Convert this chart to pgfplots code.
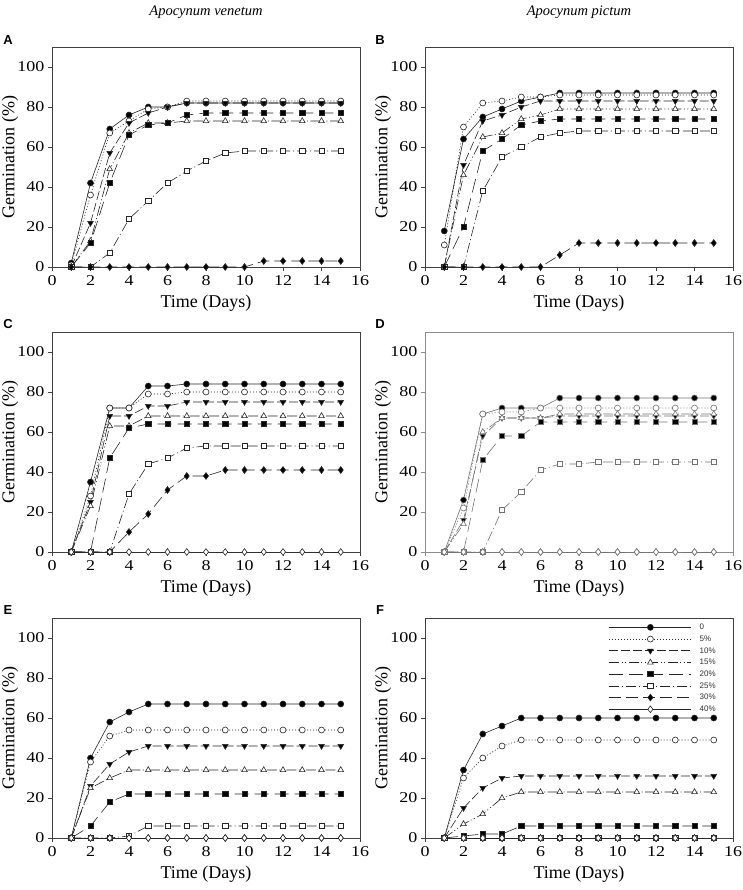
\documentclass[border=0pt]{standalone}
\usepackage{fontspec}
\setmainfont{Liberation Serif}
\setsansfont{Liberation Sans}
\newfontfamily\tickfamily[FakeStretch=1.2]{Liberation Serif}
\usepackage{pgfplots}
\usepackage{pgfplotstable}
\pgfplotsset{compat=1.18}

% germination (%) per day; columns = PEG / salt levels
\pgfplotstableread{
day s0 s5 s10 s15 s20 s25 s30
1  2  1  0  0  0  0  0
2  42 36 22 13 12 0  0
3  69 67 57 49 42 7  0
4  76 73 72 67 66 24 0
5  80 79 77 72 71 33 0
6  80 80 80 72 72 42 0
7  82 83 82 73 76 48 0
8  82 83 82 73 77 53 0
9  82 83 82 73 77 57 0
10 82 83 82 73 77 58 0
11 82 83 82 73 77 58 3
12 82 83 82 73 77 58 3
13 82 83 82 73 77 58 3
14 82 83 82 73 77 58 3
15 82 83 82 73 77 58 3
}\tabA

\pgfplotstableread{
day s0 s5 s10 s15 s20 s25 s30
1  18 11 0  0  0  0  0
2  64 70 51 46 20 0  0
3  75 82 73 65 58 38 0
4  79 83 76 67 64 55 0
5  83 85 80 74 71 60 0
6  85 85 83 76 73 65 0
7  87 86 83 79 74 67 6
8  87 86 83 79 74 68 12
9  87 86 83 79 74 68 12
10 87 86 83 79 74 68 12
11 87 86 83 79 74 68 12
12 87 86 83 79 74 68 12
13 87 86 83 79 74 68 12
14 87 86 83 79 74 68 12
15 87 86 83 79 74 68 12
}\tabB

\pgfplotstableread{
day s0 s5 s10 s15 s20 s25 s30 s40
1  0  0  0  0  0  0  0  0
2  35 28 25 23 0  0  0  0
3  72 72 68 63 47 0  0  0
4  72 72 68 63 62 29 10 0
5  83 79 73 68 64 44 19 0
6  83 79 73 68 64 47 31 0
7  84 80 75 68 64 52 38 0
8  84 80 75 68 64 53 38 0
9  84 80 75 68 64 53 41 0
10 84 80 75 68 64 53 41 0
11 84 80 75 68 64 53 41 0
12 84 80 75 68 64 53 41 0
13 84 80 75 68 64 53 41 0
14 84 80 75 68 64 53 41 0
15 84 80 75 68 64 53 41 0
}\tabC

\pgfplotstableread{
day s0 s5 s10 s15 s20 s25 s30 s40
1  0  0  0  0  0  0  0  0
2  26 22 16 14 0  0  0  0
3  69 69 58 60 46 0  0  0
4  72 70 67 67 58 21 0  0
5  72 70 67 67 58 30 0  0
6  72 72 67 67 65 41 0  0
7  77 72 68 69 65 44 0  0
8  77 72 68 69 65 44 0  0
9  77 72 68 69 65 45 0  0
10 77 72 68 69 65 45 0  0
11 77 72 68 69 65 45 0  0
12 77 72 68 69 65 45 0  0
13 77 72 68 69 65 45 0  0
14 77 72 68 69 65 45 0  0
15 77 72 68 69 65 45 0  0
}\tabD

\pgfplotstableread{
day s0 s5 s10 s15 s20 s25 s30 s40
1  0  0  0  0  0  0  0  0
2  40 38 26 25 6  0  0  0
3  58 51 37 30 18 0  0  0
4  63 54 43 34 22 1  0  0
5  67 54 46 34 22 6  0  0
6  67 54 46 34 22 6  0  0
7  67 54 46 34 22 6  0  0
8  67 54 46 34 22 6  0  0
9  67 54 46 34 22 6  0  0
10 67 54 46 34 22 6  0  0
11 67 54 46 34 22 6  0  0
12 67 54 46 34 22 6  0  0
13 67 54 46 34 22 6  0  0
14 67 54 46 34 22 6  0  0
15 67 54 46 34 22 6  0  0
}\tabE

\pgfplotstableread{
day s0 s5 s10 s15 s20 s25 s30 s40
1  0  0  0  0  0  0  0  0
2  34 30 15 7  1  0  0  0
3  52 40 25 12 2  0  0  0
4  56 46 30 20 2  0  0  0
5  60 49 31 23 6  0  0  0
6  60 49 31 23 6  0  0  0
7  60 49 31 23 6  0  0  0
8  60 49 31 23 6  0  0  0
9  60 49 31 23 6  0  0  0
10 60 49 31 23 6  0  0  0
11 60 49 31 23 6  0  0  0
12 60 49 31 23 6  0  0  0
13 60 49 31 23 6  0  0  0
14 60 49 31 23 6  0  0  0
15 60 49 31 23 6  0  0  0
}\tabF

\newcommand\labfont{\fontsize{18}{18}\selectfont}

\pgfplotsset{
  germ/.style={
    scale only axis, width=308pt, height=220pt, anchor=south west,
    xmin=0, xmax=16, ymin=0, ymax=110,
    xtick={0,2,...,16}, ytick={0,20,...,100},
    tick pos=left, tick align=outside, major tick length=4pt,
    axis line style={black!75, line width=0.8pt},
    tick style={black!75, line width=0.8pt},
    clip=false,
    /pgf/number format/assume math mode=true,
    ticklabel style={font=\tickfamily\fontsize{15}{15}\selectfont},
    xticklabel style={yshift=-1pt},
    xlabel={Time (Days)}, ylabel={Germination (\%)},
    every axis x label/.style={at={(rel axis cs:0.5,0)}, yshift=-36pt, anchor=center, font=\labfont},
    every axis y label/.style={at={(rel axis cs:0,0.5)}, xshift=-42pt, rotate=90, anchor=center, font=\labfont},
    every axis plot/.append style={line width=0.6pt, black!85},
  },
  s0/.style={solid, mark=*, mark size=3pt, mark options={solid, fill=black}},
  s5/.style={dash pattern=on 1pt off 2pt, mark=*, mark size=3pt, mark options={solid, fill=white}},
  s10/.style={dash pattern=on 9pt off 3pt, mark=triangle*, mark size=3.3pt, mark options={solid, fill=black, rotate=180}},
  s15/.style={dash pattern=on 10pt off 2.5pt on 1pt off 2.5pt on 1pt off 2.5pt, mark=triangle*, mark size=3.3pt, mark options={solid, fill=white}},
  s20/.style={dash pattern=on 14pt off 6pt, mark=square*, mark size=2.6pt, mark options={solid, fill=black}},
  s25/.style={dash pattern=on 10pt off 3pt on 1pt off 3pt, mark=square*, mark size=2.6pt, mark options={solid, fill=white}},
  s30/.style={dash pattern=on 12pt off 5pt, mark=diamond*, mark size=3.4pt, mark options={solid, fill=black}},
  s40/.style={solid, mark=diamond*, mark size=3.4pt, mark options={solid, fill=white}},
}

\begin{document}
\begin{tikzpicture}
\path[use as bounding box] (0pt,0pt) rectangle (743pt,-890pt);

\node[font=\itshape\fontsize{14.5}{14.5}\selectfont] at (206pt,-12pt) {Apocynum venetum};
\node[font=\itshape\fontsize{14.5}{14.5}\selectfont] at (579pt,-12pt) {Apocynum pictum};

\begin{axis}[germ, at={(52pt,-267pt)}]
\addplot[s0]  table[x=day, y=s0]  {\tabA};
\addplot[s5]  table[x=day, y=s5]  {\tabA};
\addplot[s10] table[x=day, y=s10] {\tabA};
\addplot[s15] table[x=day, y=s15] {\tabA};
\addplot[s20] table[x=day, y=s20] {\tabA};
\addplot[s25] table[x=day, y=s25] {\tabA};
\addplot[s30] table[x=day, y=s30] {\tabA};
\end{axis}

\begin{axis}[germ, at={(425pt,-267pt)}]
\addplot[s0]  table[x=day, y=s0]  {\tabB};
\addplot[s5]  table[x=day, y=s5]  {\tabB};
\addplot[s10] table[x=day, y=s10] {\tabB};
\addplot[s15] table[x=day, y=s15] {\tabB};
\addplot[s20] table[x=day, y=s20] {\tabB};
\addplot[s25] table[x=day, y=s25] {\tabB};
\addplot[s30] table[x=day, y=s30] {\tabB};
\end{axis}

\begin{axis}[germ, at={(52pt,-552pt)}]
\addplot[s0]  table[x=day, y=s0]  {\tabC};
\addplot[s5]  table[x=day, y=s5]  {\tabC};
\addplot[s10] table[x=day, y=s10] {\tabC};
\addplot[s15] table[x=day, y=s15] {\tabC};
\addplot[s20] table[x=day, y=s20] {\tabC};
\addplot[s25] table[x=day, y=s25] {\tabC};
\addplot[s30] table[x=day, y=s30] {\tabC};
\addplot[s40] table[x=day, y=s40] {\tabC};
\end{axis}

\begin{axis}[germ, at={(425pt,-552pt)},
  axis line style={black!45, line width=0.8pt}, tick style={black!45, line width=0.8pt},
  every axis plot/.append style={black!55}]
\addplot[s0]  table[x=day, y=s0]  {\tabD};
\addplot[s5]  table[x=day, y=s5]  {\tabD};
\addplot[s10] table[x=day, y=s10] {\tabD};
\addplot[s15] table[x=day, y=s15] {\tabD};
\addplot[s20] table[x=day, y=s20] {\tabD};
\addplot[s25] table[x=day, y=s25] {\tabD};
\addplot[s30] table[x=day, y=s30] {\tabD};
\addplot[s40] table[x=day, y=s40] {\tabD};
\end{axis}

\begin{axis}[germ, at={(52pt,-838pt)}]
\addplot[s0]  table[x=day, y=s0]  {\tabE};
\addplot[s5]  table[x=day, y=s5]  {\tabE};
\addplot[s10] table[x=day, y=s10] {\tabE};
\addplot[s15] table[x=day, y=s15] {\tabE};
\addplot[s20] table[x=day, y=s20] {\tabE};
\addplot[s25] table[x=day, y=s25] {\tabE};
\addplot[s30] table[x=day, y=s30] {\tabE};
\addplot[s40] table[x=day, y=s40] {\tabE};
\end{axis}

\begin{axis}[germ, at={(425pt,-838pt)},
  legend image code/.code={\draw[mark repeat=2, mark phase=2, #1] plot coordinates {(0pt,0pt) (41pt,0pt) (82pt,0pt)};},
  legend style={at={(rel axis cs:0.597,0.985)}, anchor=north west, draw=none, fill=none,
    inner sep=0pt, row sep=0pt, text=black!80,
    nodes={inner sep=0pt, text height=8.2pt, text depth=3.5pt, font=\sffamily\fontsize{8}{8}\selectfont},
    cells={anchor=west},
    /tikz/every odd column/.append style={column sep=8pt}}]
\addplot[s0]  table[x=day, y=s0]  {\tabF};
\addplot[s5]  table[x=day, y=s5]  {\tabF};
\addplot[s10] table[x=day, y=s10] {\tabF};
\addplot[s15] table[x=day, y=s15] {\tabF};
\addplot[s20] table[x=day, y=s20] {\tabF};
\addplot[s25] table[x=day, y=s25] {\tabF};
\addplot[s30] table[x=day, y=s30] {\tabF};
\addplot[s40] table[x=day, y=s40] {\tabF};
\legend{0, 5\%, 10\%, 15\%, 20\%, 25\%, 30\%, 40\%}
\end{axis}

\node[font=\sffamily\bfseries\fontsize{13}{13}\selectfont] at (8pt,-40pt) {A};
\node[font=\sffamily\bfseries\fontsize{13}{13}\selectfont] at (380pt,-40pt) {B};
\node[font=\sffamily\bfseries\fontsize{13}{13}\selectfont] at (8pt,-324pt) {C};
\node[font=\sffamily\bfseries\fontsize{13}{13}\selectfont] at (380pt,-324pt) {D};
\node[font=\sffamily\bfseries\fontsize{13}{13}\selectfont] at (8pt,-610pt) {E};
\node[font=\sffamily\bfseries\fontsize{13}{13}\selectfont] at (380pt,-610pt) {F};
\end{tikzpicture}
\end{document}
